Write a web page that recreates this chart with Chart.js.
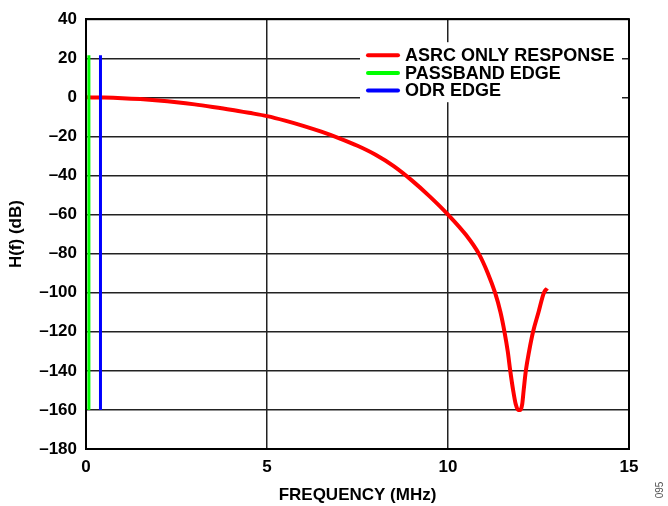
<!DOCTYPE html>
<html><head><meta charset="utf-8">
<script src="https://cdn.jsdelivr.net/npm/chart.js@4/dist/chart.umd.min.js"></script>
<style>html,body{margin:0;padding:0;background:#fff;}canvas{display:block;}</style>
</head><body>
<canvas id="c" width="668" height="506"></canvas>
<script>
// ---- data ----
const freqMHz = [0,0.5,1,1.5,2,2.5,3,3.5,4,4.5,5,5.5,6,6.5,7,7.5,8,8.5,9,9.5,10,10.5,10.85,11.1,11.3,11.45,11.56,11.65,11.72,11.8,11.87,11.94,12.0,12.05,12.09,12.15,12.24,12.35,12.5,12.65,12.74];
const asrcDb  = [0,-0.1,-0.4,-0.9,-1.6,-2.5,-3.6,-4.9,-6.3,-7.9,-9.6,-11.9,-14.6,-17.6,-21,-24.8,-29.4,-35.2,-42.5,-50.8,-60,-70.5,-80,-90,-100,-110,-120,-130,-140,-150,-157,-160,-160,-157,-150,-140,-130,-120,-110,-100,-97.8];
const passbandEdgeX = [0.08, 0.08];
const passbandEdgeY = [-160, 21.5];
const odrEdgeX = [0.4, 0.4];
const odrEdgeY = [-160, 21.5];
const seriesLabels = ['ASRC ONLY RESPONSE', 'PASSBAND EDGE', 'ODR EDGE'];
const xRange = [0, 15];
const xStep = 5;
const yRange = [-180, 40];
const yStep = 20;
const xTitle = 'FREQUENCY (MHz)';
const yTitle = 'H(f) (dB)';
const figNote = '095';

const toPts = (xs, ys) => xs.map((x, i) => ({x, y: ys[i]}));
const FONT = 'Liberation Sans, Arial, Helvetica, sans-serif';

const legendPlugin = {
  id: 'boxLegend',
  afterDatasetsDraw(chart) {
    const {ctx, chartArea: a} = chart;
    ctx.save();
    ctx.fillStyle = '#fff';
    ctx.fillRect(a.right - 269, a.top + 23, 262, 60);
    const rowY = [a.top + 36, a.top + 53.7, a.top + 71.3];
    chart.data.datasets.forEach((ds, i) => {
      ctx.strokeStyle = ds.borderColor;
      ctx.lineWidth = 4;
      ctx.lineCap = 'round';
      ctx.beginPath();
      ctx.moveTo(a.right - 261, rowY[i]);
      ctx.lineTo(a.right - 231, rowY[i]);
      ctx.stroke();
      ctx.fillStyle = '#000';
      ctx.font = 'bold 18px ' + FONT;
      ctx.textBaseline = 'middle';
      ctx.textAlign = 'left';
      ctx.fillText(ds.label, a.right - 224, rowY[i] + 1);
    });
    ctx.restore();
  },
  afterDraw(chart) {
    const {ctx, chartArea: a} = chart;
    ctx.save();
    ctx.strokeStyle = '#000';
    ctx.lineWidth = 2;
    ctx.strokeRect(a.left, a.top, a.right - a.left, a.bottom - a.top);
    ctx.translate(chart.width - 8, chart.height - 16);
    ctx.rotate(-Math.PI / 2);
    ctx.fillStyle = '#555';
    ctx.font = '10px ' + FONT;
    ctx.textAlign = 'center';
    ctx.textBaseline = 'middle';
    ctx.fillText(figNote, 0, 0);
    ctx.restore();
  }
};

const fmt = v => v < 0 ? '\u2013' + Math.abs(v) : String(v);

new Chart(document.getElementById('c'), {
  type: 'line',
  data: {
    datasets: [
      {label: seriesLabels[0], data: toPts(freqMHz, asrcDb), borderColor: '#ff0000', borderWidth: 4,
       pointRadius: 0, cubicInterpolationMode: 'monotone', order: 2, fill: false},
      {label: seriesLabels[1], data: toPts(passbandEdgeX, passbandEdgeY), borderColor: '#00ff00', borderWidth: 3,
       pointRadius: 0, order: 1, fill: false},
      {label: seriesLabels[2], data: toPts(odrEdgeX, odrEdgeY), borderColor: '#0000ff', borderWidth: 3,
       pointRadius: 0, order: 1, fill: false}
    ]
  },
  options: {
    responsive: false,
    animation: false,
    layout: {padding: {top: 17, right: 39, left: 0, bottom: 0}},
    plugins: {legend: {display: false}, tooltip: {enabled: false}},
    scales: {
      x: {
        type: 'linear', min: xRange[0], max: xRange[1],
        ticks: {stepSize: xStep, color: '#000', font: {family: FONT, size: 17, weight: 'bold'}, padding: 8, maxRotation: 0},
        grid: {color: '#222', lineWidth: 1.5, drawTicks: false},
        border: {display: true, color: '#000', width: 2},
        title: {display: true, text: xTitle, color: '#000', font: {family: FONT, size: 17, weight: 'bold'}, padding: {top: 0, bottom: 0}},
        afterFit: s => { s.height = 57; }
      },
      y: {
        type: 'linear', min: yRange[0], max: yRange[1],
        ticks: {stepSize: yStep, color: '#000', font: {family: FONT, size: 17, weight: 'bold'}, padding: 9, callback: fmt},
        grid: {color: '#222', lineWidth: 1.5, drawTicks: false},
        border: {display: true, color: '#000', width: 2},
        title: {display: true, text: yTitle, color: '#000', font: {family: FONT, size: 17, weight: 'bold'}, padding: {top: 6, bottom: 0}},
        afterFit: s => { s.width = 86; }
      }
    }
  },
  plugins: [legendPlugin]
});
</script>
</body></html>
